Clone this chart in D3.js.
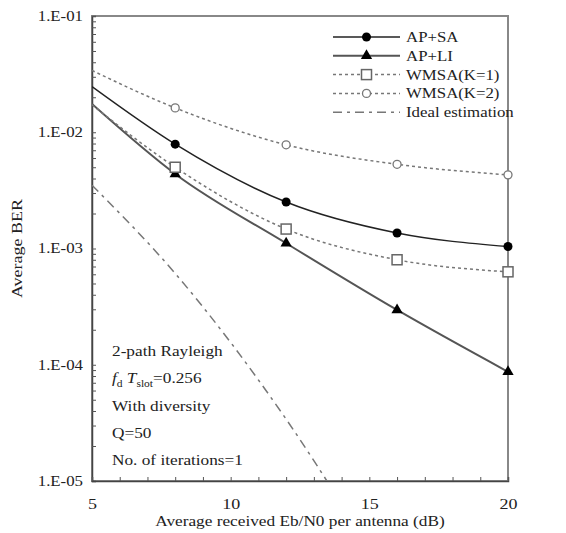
<!DOCTYPE html>
<html>
<head>
<meta charset="utf-8">
<script src="https://cdn.jsdelivr.net/npm/d3@7"></script>
<style>
  body { margin: 0; background: #fff; }
  text { font-family: "Liberation Serif", "Times New Roman", serif; fill: #222; }
</style>
</head>
<body>
<div id="chart"></div>
<script>

// data
var snr = [5, 8, 12, 16, 20];
var apSA   = [0.0247, 0.0079, 0.00251, 0.00136, 0.00104];
var apLI   = [0.0175, 0.00438, 0.00111, 0.000296, 0.000087];
var wmsaK1 = [0.0172, 0.0050, 0.00147, 0.00080, 0.00063];
var wmsaK2 = [0.034, 0.0162, 0.0078, 0.0053, 0.0043];
var ideal  = [0.0035, 0.00061, 0.000034, 0.00000105];
var yTicks = [1e-1, 1e-2, 1e-3, 1e-4, 1e-5];
var xTicks = [5, 10, 15, 20];
var notes = ["2-path Rayleigh", "", "With diversity", "Q=50", "No. of iterations=1"];

var margin = {top: 16, right: 58, bottom: 52, left: 92},
  width = 566 - margin.left - margin.right,
  height = 533 - margin.top - margin.bottom;

var svg = d3.select("#chart")
.append("svg")
  .attr("width", 566)
  .attr("height", 533)
.append("g")
  .attr("transform", "translate(" + margin.left + "," + margin.top + ")");

var x = d3.scaleLinear().domain([5, 20]).range([0, width]);
var y = d3.scaleLog().domain([1e-5, 1e-1]).range([height, 0]);

// the original font is wider than Liberation Serif, stretch it a bit
function stretch(sel, k) {
  sel.each(function() {
    var len = this.getComputedTextLength();
    d3.select(this).attr("textLength", len * k).attr("lengthAdjust", "spacingAndGlyphs");
  });
}

svg.append("defs").append("clipPath").attr("id", "clip")
  .append("rect").attr("width", width).attr("height", height);

// frame
svg.append("rect")
  .attr("width", width).attr("height", height)
  .attr("fill", "none").attr("stroke", "#888").attr("stroke-width", 2);

// y axis with minor ticks pointing inward
var yMinor = [];
for (var e = -5; e < -1; e++) for (var m = 1; m < 10; m++) yMinor.push(m * Math.pow(10, e));
yMinor.push(0.1);
svg.append("g")
  .call(d3.axisRight(y).tickValues(yMinor).tickSize(4).tickFormat(""))
  .call(g => g.select(".domain").attr("stroke", "#444").attr("stroke-width", 1.5))
  .call(g => g.selectAll("line").attr("stroke", "#555"));
svg.append("g")
  .call(d3.axisLeft(y).tickValues(yTicks).tickSize(0).tickPadding(9)
    .tickFormat(d => "1.E-" + d3.format("02d")(-Math.round(Math.log10(d)))))
  .call(g => g.select(".domain").remove())
  .selectAll("text")
    .style("font-size", "14px").style("font-family", "Liberation Serif")
    .call(stretch, 1.2);

// x axis
svg.append("g")
  .attr("transform", "translate(0," + height + ")")
  .call(d3.axisTop(x).tickValues(d3.range(5, 21)).tickSize(4).tickFormat(""))
  .call(g => g.select(".domain").attr("stroke", "#444").attr("stroke-width", 1.5))
  .call(g => g.selectAll("line").attr("stroke", "#555"));
svg.append("g")
  .attr("transform", "translate(0," + height + ")")
  .call(d3.axisBottom(x).tickValues(xTicks).tickSize(0).tickPadding(17))
  .call(g => g.select(".domain").remove())
  .selectAll("text")
    .style("font-size", "15px").style("font-family", "Liberation Serif")
    .call(stretch, 1.2);

// axis titles
svg.append("text")
  .attr("x", width / 2).attr("y", height + 45)
  .attr("text-anchor", "middle")
  .style("font-size", "15px")
  .text("Average received Eb/N0 per antenna (dB)")
  .call(stretch, 1.15);
svg.append("text")
  .attr("transform", "translate(-70," + (height / 2) + ") rotate(-90)")
  .attr("text-anchor", "middle")
  .style("font-size", "15px")
  .text("Average BER")
  .call(stretch, 1.2);

// series
var series = [
  {name: "AP+SA", values: apSA, color: "#222", width: 1.5, dash: null, marker: "circle"},
  {name: "AP+LI", values: apLI, color: "#555", width: 2, dash: null, marker: "triangle"},
  {name: "WMSA(K=1)", values: wmsaK1, color: "#777", width: 1.5, dash: "3,3", marker: "square"},
  {name: "WMSA(K=2)", values: wmsaK2, color: "#777", width: 1.5, dash: "3,3", marker: "small"},
  {name: "Ideal estimation", values: ideal, color: "#777", width: 1.5, dash: "9,5,3,5", marker: null}
];

var line = d3.line()
  .x(function(d) { return x(d.x); })
  .y(function(d) { return y(d.y); })
  .curve(d3.curveMonotoneX);

function drawMarker(g, type, cx, cy) {
  if (type === "circle") {
    g.append("circle").attr("cx", cx).attr("cy", cy).attr("r", 4.5).attr("fill", "#000");
  } else if (type === "triangle") {
    g.append("path").attr("transform", "translate(" + cx + "," + cy + ")")
      .attr("d", d3.symbol(d3.symbolTriangle, 55)()).attr("fill", "#000");
  } else if (type === "square") {
    g.append("rect").attr("x", cx - 5).attr("y", cy - 5).attr("width", 10).attr("height", 10)
      .attr("fill", "#fff").attr("stroke", "#666").attr("stroke-width", 1.5);
  } else if (type === "small") {
    g.append("circle").attr("cx", cx).attr("cy", cy).attr("r", 4)
      .attr("fill", "#fff").attr("stroke", "#777").attr("stroke-width", 1.3);
  }
}

var plot = svg.append("g").attr("clip-path", "url(#clip)");
series.forEach(function(s) {
  var pts = s.values.map(function(v, i) { return {x: snr[i], y: v}; });
  plot.append("path")
    .datum(pts)
    .attr("d", line)
    .attr("fill", "none")
    .attr("stroke", s.color)
    .attr("stroke-width", s.width)
    .attr("stroke-dasharray", s.dash);
});
series.forEach(function(s) {
  if (!s.marker) return;
  s.values.forEach(function(v, i) {
    if (i === 0) return;
    drawMarker(svg, s.marker, x(snr[i]), y(v));
  });
});

// legend
var legend = svg.append("g").attr("transform", "translate(241,21)");
series.forEach(function(s, i) {
  var row = legend.append("g").attr("transform", "translate(0," + (i * 18.8) + ")");
  row.append("line")
    .attr("x1", 0).attr("x2", 67)
    .attr("stroke", s.color).attr("stroke-width", s.width)
    .attr("stroke-dasharray", s.dash);
  if (s.marker) drawMarker(row, s.marker, 33.5, 0);
  row.append("text")
    .attr("x", 73).attr("y", 5)
    .style("font-size", "14px")
    .text(s.name)
    .call(stretch, 1.2);
});

// notes
var notesG = svg.append("g").attr("transform", "translate(20,340)");
notes.forEach(function(t, i) {
  var tx = notesG.append("text").attr("x", 0).attr("y", i * 27.3).style("font-size", "15px");
  if (i === 1) {
    tx.append("tspan").style("font-style", "italic").text("f");
    tx.append("tspan").attr("dy", 4).style("font-size", "10px").text("d");
    tx.append("tspan").attr("dy", -4).style("font-style", "italic").text(" T");
    tx.append("tspan").attr("dy", 4).style("font-size", "10px").text("slot");
    tx.append("tspan").attr("dy", -4).text("=0.256");
  } else {
    tx.text(t);
  }
  tx.call(stretch, 1.15);
});

</script>
</body>
</html>
